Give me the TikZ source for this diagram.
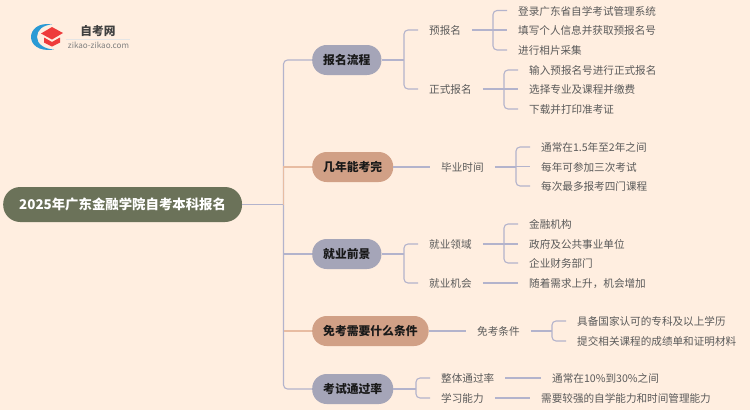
\documentclass[tikz,border=0pt]{standalone}
\usepackage{fontspec}
\setmainfont{Noto Sans CJK SC}
\definecolor{bgc}{HTML}{FFEEE0}
\definecolor{rootc}{HTML}{6B7259}
\definecolor{purp}{HTML}{A5A5B8}
\definecolor{salm}{HTML}{D1A086}
\definecolor{linec}{HTML}{B3B3CC}
\definecolor{linesalm}{HTML}{E8BCA2}
\definecolor{txt}{HTML}{5A5A5A}
\definecolor{logoblue}{HTML}{2A9AD5}
\definecolor{logored}{HTML}{EE3B3B}
\tikzset{
 x=1pt,y=-1pt,
 rootbox/.style={anchor=west,fill=rootc,text=white,rounded corners=17pt,minimum height=35pt,inner xsep=16pt,inner ysep=0pt,font=\fontsize{13.4}{14}\selectfont\bfseries},
 topic/.style={anchor=west,fill=#1,text=black!90,rounded corners=14.5pt,minimum height=30pt,inner xsep=11pt,inner ysep=0pt,text height=10.6pt,text depth=1pt,font=\fontsize{11.8}{14}\selectfont\bfseries},
 leaf/.style={anchor=west,text=txt,inner xsep=11pt,inner ysep=0pt,text height=10pt,text depth=1pt,font=\fontsize{10.6}{13}\selectfont},
 logotext/.style={inner sep=0pt},
 conn/.style={draw=linec,line width=1.1pt,rounded corners=4pt},
 connsalm/.style={draw=linesalm,line width=1.1pt,rounded corners=4pt},
}
\newcommand{\stemline}[2]{\draw[conn] (#1.east) -- (#2,0 |- #1.east);}
\newcommand{\brackt}[3]{\draw[conn] (#1.west) -- (#3,0 |- #1.west) -- (#3,0 |- #2.west) -- (#2.west);}
\newcommand{\armline}[2]{\draw[conn] (#2,0 |- #1.west) -- (#1.west);}
\begin{document}
\begin{tikzpicture}
\useasboundingbox (0,0) rectangle (750,410);
\fill[bgc] (0,0) rectangle (750,410);
% logo
\fill[logoblue] (52,24.5) .. controls (38,22) and (31,30) .. (31,37) .. controls (31,44) and (38,52) .. (54,49.5) .. controls (44,49) and (37,44) .. (37,37) .. controls (37,30) and (43,25) .. (52,24.5) -- cycle;
\fill[logored] (41,33.5) -- (52,27) -- (63,33) -- (52,39.5) -- cycle;
\fill[logored] (44,37.5) -- (52,42) -- (60,37.5) -- (60,42.5) -- (52,46.5) -- (44,42.5) -- cycle;
\node[logotext,text=black!75,font=\fontsize{11.7}{13}\selectfont\bfseries] (logoa) at (98,31) {自考网};
\node[logotext,text=black!50,font=\fontsize{8.1}{9}\selectfont] (logob) at (98.5,45) {zikao-zikao.com};
\draw[black!10,line width=0.6pt] (66,39) -- (130,39);
% root and topics
\node[rootbox] (root) at (3,204.5) {2025年广东金融学院自考本科报名};
\node[topic=purp] (t1) at (312,60) {报名流程};
\node[topic=salm] (t2) at (312,167) {几年能考完};
\node[topic=purp] (t3) at (312,254) {就业前景};
\node[topic=salm] (t4) at (312,331) {免考需要什么条件};
\node[topic=purp] (t5) at (312,389) {考试通过率};
% second level
\node[leaf] (a1) at (418,30) {预报名};
\node[leaf] (a2) at (418,89) {正式报名};
\node[leaf] (b1) at (430,167) {毕业时间};
\node[leaf] (c1) at (418,244) {就业领域};
\node[leaf] (c2) at (418,283) {就业机会};
\node[leaf] (d1) at (466,331) {免考条件};
\node[leaf] (e1) at (430,378) {整体通过率};
\node[leaf] (e2) at (430,398) {学习能力};
% leaves
\node[leaf] (a11) at (507,10.5) {登录广东省自学考试管理系统};
\node[leaf] (a12) at (507,30) {填写个人信息并获取预报名号};
\node[leaf] (a13) at (507,50) {进行相片采集};
\node[leaf] (a21) at (518,70) {输入预报名号进行正式报名};
\node[leaf] (a22) at (518,89) {选择专业及课程并缴费};
\node[leaf] (a23) at (518,109) {下载并打印准考证};
\node[leaf] (b11) at (530,147) {通常在1.5年至2年之间};
\node[leaf] (b12) at (530,166.5) {每年可参加三次考试};
\node[leaf] (b13) at (530,186) {每次最多报考四门课程};
\node[leaf] (c11) at (518,224) {金融机构};
\node[leaf] (c12) at (518,244) {政府及公共事业单位};
\node[leaf] (c13) at (518,263) {企业财务部门};
\node[leaf] (c21) at (518,283) {随着需求上升，机会增加};
\node[leaf] (d11) at (566,321) {具备国家认可的专科及以上学历};
\node[leaf] (d12) at (566,341) {提交相关课程的成绩单和证明材料};
\node[leaf] (e11) at (541,378) {通常在10\%到30\%之间};
\node[leaf] (e21) at (530,398) {需要较强的自学能力和时间管理能力};
% trunk
\draw[conn] (root.east) -- (283.5,0 |- root.east);
\draw[conn] (t1.west) -- (283.5,0 |- t1.west) -- (283.5,0 |- t5.west) -- (t5.west);
\draw[conn] (283.5,0 |- t3.west) -- (t3.west);
\draw[connsalm,rounded corners=0pt] (283.5,0 |- root.east) -- (283.5,0 |- t2.west) -- (t2.west);
\draw[connsalm,rounded corners=0pt] (283.5,0 |- t4.west) -- (t4.west);
% topic 1
\stemline{t1}{404} \brackt{a1}{a2}{404}
\stemline{a1}{493} \brackt{a11}{a13}{493} \armline{a12}{493}
\stemline{a2}{504} \brackt{a21}{a23}{504} \armline{a22}{504}
% topic 2
\draw[conn] (t2.east) -- (b1.west);
\stemline{b1}{516} \brackt{b11}{b13}{516} \armline{b12}{516}
% topic 3
\stemline{t3}{404} \brackt{c1}{c2}{404}
\stemline{c1}{504} \brackt{c11}{c13}{504} \armline{c12}{504}
\draw[conn] (c2.east) -- (c21.west);
% topic 4
\draw[conn] (t4.east) -- (d1.west);
\stemline{d1}{552} \brackt{d11}{d12}{552}
% topic 5
\stemline{t5}{416} \brackt{e1}{e2}{416}
\draw[conn] (e1.east) -- (e11.west);
\draw[conn] (e2.east) -- (e21.west);
\end{tikzpicture}
\end{document}
